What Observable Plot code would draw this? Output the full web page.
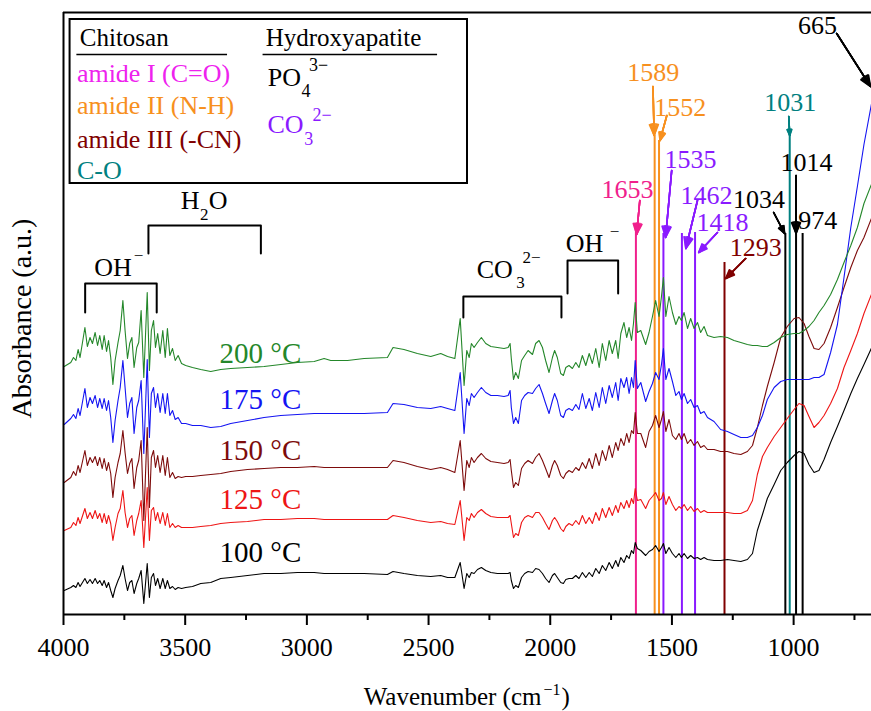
<!DOCTYPE html>
<html><head><meta charset="utf-8">
<script src="https://cdn.jsdelivr.net/npm/d3@7"></script>
<script src="https://cdn.jsdelivr.net/npm/@observablehq/plot@0.6"></script>
<style>
html,body{margin:0;padding:0;background:#fff;}
#chart svg{display:block;}
</style></head><body><div id="chart"></div>
<script>
// ---------- data ----------
const wavenumbers = [
 3997,3970,3959,3949,3940,3932,3912,3902,3891,3881,3870,3860,3851,3841,3833,3823,3815,3806,3797,3788,3776,3767,3756,3747,3737,3728,3719,3710,3699,3691,3681,3670,3656,3647,3639,3630,3622,3613,3603,3592,3582,3573,3563,3552,3541,3529,3515,3498,3470,3436,3395,3354,
 3313,3244,3176,3107,3039,2970,2929,2902,2833,2765,2669,2646,2601,2546,2491,2450,2422,2392,
 2370,2354,2343,2333,2324,2313,2299,2283,2265,2244,2217,2190,2173,2165,2160,2151,2142,2131,2118,2105,2091,2073,2060,2046,2032,2019,2005,1991,1982,1971,1957,1946,1936,1923,1909,1895,1882,1868,1854,1840,1827,1813,1799,1786,1772,1758,1745,1731,1721,1710,1697,1686,1676,1666,1658,1651,1642,1628,
 1608,1594,1580,1567,1553,1543,1535,1525,1512,1498,1484,1471,1461,1450,1436,1423,1409,1395,1382,1368,1354,1327,1300,1272,1245,1217,1190,1169,1149,1128,1108,1080,1053,1026,998,978,957,937,916,896,875,848,820,793,765,738,711,679
];
const absorb200 = [
 248,252,257,254,265,257,287,268,277,271,282,269,279,265,279,263,274,257,230,254,272,284,314,284,256,271,277,247,267,272,304,237,322,244,284,294,267,281,261,284,257,286,259,266,254,259,251,249,247,245,243,245,
 246,247,248,250,252,253,256,254,254,256,257,267,265,261,258,261,258,256,
 296,229,264,257,271,267,272,277,271,268,267,266,267,271,256,235,242,236,254,259,264,260,271,274,267,254,242,257,264,257,241,239,247,249,246,252,247,259,249,261,251,266,247,271,254,274,261,274,256,281,292,277,287,274,291,312,282,284,
 270,282,298,314,298,318,337,298,318,302,290,298,294,302,286,296,286,292,282,288,279,277,278,277,274,272,270,269,269,268,268,272,277,280,281,281,284,288,294,302,309,320,335,352,369,387,411,431
];
const absorb175 = [
 190,196,200,196,206,199,226,207,217,211,219,207,216,206,216,204,214,197,172,194,214,227,254,227,197,211,217,181,207,214,234,161,255,177,221,227,207,221,202,221,201,221,199,204,195,197,191,191,189,189,187,188,
 191,194,197,199,200,201,201,201,201,201,202,211,210,207,206,208,206,204,
 242,181,216,209,221,217,222,227,222,219,219,218,219,224,207,191,197,191,214,219,222,221,226,230,221,211,201,214,221,214,199,197,204,206,204,210,205,221,206,216,204,222,207,227,211,229,217,232,214,236,227,237,221,237,227,254,226,232,
 213,223,231,242,235,250,266,235,246,233,219,223,215,221,211,215,207,209,201,203,197,193,185,183,180,177,177,179,187,199,215,227,233,235,235,235,235,235,237,237,240,262,290,337,387,428,470,512
];
const absorb150 = [
 132,137,143,139,149,142,164,149,157,152,158,149,157,146,156,144,152,141,117,137,152,161,184,162,141,151,156,126,147,154,174,94,187,107,157,164,147,159,142,159,139,157,137,142,136,138,137,138,138,139,140,141,
 143,145,146,147,147,148,147,147,147,147,147,154,152,148,145,147,145,142,
 174,124,154,147,157,152,157,161,156,153,152,151,152,155,144,127,132,129,146,151,154,151,157,161,154,146,137,149,154,149,139,136,141,144,142,147,144,152,146,156,146,161,149,164,154,169,157,172,164,176,169,181,172,184,181,202,181,181,
 167,183,189,199,187,195,203,183,195,179,175,181,175,181,171,175,169,173,167,169,165,165,163,163,161,160,163,169,187,209,228,252,277,288,296,297,291,278,266,265,271,287,307,327,347,364,377,397
];
const absorb125 = [
 84,87,92,89,97,91,106,96,102,96,104,96,101,92,101,91,99,91,74,87,101,106,124,102,87,96,99,79,94,101,114,67,127,74,104,107,94,102,91,102,89,101,87,91,87,89,87,87,87,88,89,91,
 92,93,95,95,96,96,95,95,95,95,95,99,97,94,92,93,91,90,
 114,74,97,94,101,97,102,105,101,98,97,97,97,99,91,77,81,79,92,97,99,97,102,102,97,91,85,94,97,93,86,83,88,91,89,94,90,99,91,97,91,102,94,106,97,107,99,109,102,112,106,114,107,116,111,126,114,115,
 106,114,118,122,114,116,122,110,118,110,104,108,106,110,104,108,103,106,102,104,102,102,102,102,101,101,104,114,140,158,167,178,187,196,205,211,209,198,187,192,199,211,226,247,264,281,301,321
];
const absorb100 = [
 24,27,29,27,32,28,36,31,35,31,36,31,34,29,34,27,32,24,17,26,34,39,49,36,24,32,34,21,31,36,44,11,51,17,37,41,29,36,26,36,26,34,26,28,25,27,26,27,28,31,32,36,
 37,39,41,41,42,42,41,41,41,41,40,43,41,39,38,39,37,37,
 52,26,41,37,42,41,45,47,44,42,41,41,41,42,34,26,29,27,37,41,43,42,46,45,41,36,32,39,41,37,32,31,35,36,36,39,36,42,37,42,38,46,41,49,44,52,46,54,48,57,52,59,56,64,61,72,66,64,
 59,63,65,69,63,67,71,61,67,61,57,61,57,61,56,59,56,57,55,57,55,54,54,55,54,53,55,61,84,100,116,130,144,152,159,163,161,150,142,144,155,172,188,204,221,236,250,267
];
const seriesNames = ["100 °C","125 °C","150 °C","175 °C","200 °C"];
const seriesValues = [absorb100, absorb125, absorb150, absorb175, absorb200];
const seriesColors = ["#000000","#ee1515","#7d0b0b","#1414f2","#24872a"];

const majorTicks = [4000,3500,3000,2500,2000,1500,1000];
const minorTicks = [3750,3250,2750,2250,1750,1250,750];

const peakLabels = ["1653","1589","1552","1535","1462","1418","1293","1034","1031","1014","974"];
const peakPositions = [1648,1571,1553,1535,1459,1405,1284,1034,1016,990,963];
const peakColors = ["#f0208c","#f7901e","#f7901e","#8a1aff","#8a1aff","#8a1aff","#800000","#000000","#008080","#000000","#000000"];

const chitosanBands = ["amide I (C=O)","amide II (N-H)","amide III (-CN)","C-O"];
const chitosanColors = ["#ee22ee","#f7901e","#800000","#008080"];
const hapColors = ["#000000","#8a1aff"];

// ---------- annotation layout (data coordinates) ----------
const peakLineTop = [382,479,474,381,381,382,352,381,479,381,381];
const peakLabelAt = [[1683,417],[1577,534],[1466,499],[1424,447],[1358,411],[1292,384],[1156,359],[1142,407],[1014,504],[947,444],[901,386]];
const arrowsAt = [
 [1632,414,1645,380,0],[1578,528,1573,479,1],[1521,499,1549,474,2],[1501,444,1526,377,3],
 [1395,414,1443,366,4],[1313,382,1390,362,5],[1197,356,1279,336,6],[1082,402,1037,381,7],
 [1020,498,1016,479,8],[990,439,990,381,9]
];
const bracketsAt = [[3911,3617,331,302],[3651,3189,389,361],[2357,1954,318,297],[1929,1721,354,321]];

// ---------- build tables ----------
const rows = [];
seriesNames.forEach((name, i) => {
  wavenumbers.forEach((w, j) => rows.push({w, v: seriesValues[i][j], color: seriesColors[i], s: name}));
});
const peakRows = peakLabels.map((t, i) => ({x: peakPositions[i], top: peakLineTop[i], color: peakColors[i], t, lx: peakLabelAt[i][0], ly: peakLabelAt[i][1]}));
const arrowRows = arrowsAt.map(a => ({x1: a[0], y1: a[1], x2: a[2], y2: a[3], color: peakColors[a[4]]}));
arrowRows.push({x1: 823, y1: 581, x2: 684, y2: 528, color: "#000"});
const bracketRows = [];
bracketsAt.forEach((b, k) => {
  bracketRows.push({x: b[0], y: b[3], k}, {x: b[0], y: b[2], k}, {x: b[1], y: b[2], k}, {x: b[1], y: b[3], k});
});
const spectrumLabelRows = seriesNames.map((t, i) => ({x: 3191, y: [53,106,155,206,252][i], t, color: seriesColors[i]}));

const startTexts = [
  {x: 3933, y: 569, t: "Chitosan", c: "#000", s: 25},
  {x: 3169, y: 569, t: "Hydroxyapatite", c: "#000", s: 25},
  ...chitosanBands.map((t, i) => ({x: 3945, y: [533,501,467,436][i], t, c: chitosanColors[i], s: 26})),
  {x: 3161, y: 529, t: "PO", c: hapColors[0], s: 26},
  {x: 3022, y: 518, t: "4", c: hapColors[0], s: 18},
  {x: 2991, y: 544, t: "3−", c: hapColors[0], s: 18},
  {x: 3162, y: 482, t: "CO", c: hapColors[1], s: 26},
  {x: 3011, y: 470, t: "3", c: hapColors[1], s: 18},
  {x: 2977, y: 494, t: "2−", c: hapColors[1], s: 18},
  {x: 3874, y: 339, t: "OH", c: "#000", s: 26},
  {x: 3711, y: 354, t: "−", c: "#000", s: 17},
  {x: 3518, y: 406, t: "H", c: "#000", s: 26},
  {x: 3439, y: 395, t: "2", c: "#000", s: 17},
  {x: 3403, y: 406, t: "O", c: "#000", s: 26},
  {x: 2302, y: 337, t: "CO", c: "#000", s: 26},
  {x: 2140, y: 327, t: "3", c: "#000", s: 17},
  {x: 2114, y: 352, t: "2−", c: "#000", s: 17},
  {x: 1936, y: 363, t: "OH", c: "#000", s: 26},
  {x: 1756, y: 378, t: "−", c: "#000", s: 17}
];
const headAngles = [12, 24, 36, 45];

const chart = Plot.plot({
  width: 871, height: 711,
  marginLeft: 63, marginRight: 0, marginTop: 12, marginBottom: 97,
  x: {domain: [4000, 680]},
  y: {domain: [0, 602], axis: null},
  color: {type: "identity"},
  style: {fontFamily: "'Liberation Serif','Times New Roman',serif", fontSize: "26px", background: "#fff", color: "#000"},
  marks: [
    Plot.ruleX(peakRows, {x: "x", y1: 0, y2: "top", stroke: "color", strokeWidth: 2}),
    Plot.line(rows, {x: "w", y: "v", z: "s", stroke: "color", strokeWidth: 1.1}),
    Plot.line(bracketRows, {x: "x", y: "y", z: "k", stroke: "#000", strokeWidth: 2}),
    Plot.rect([{x1: 3973, x2: 2340, y1: 431, y2: 595}], {x1: "x1", x2: "x2", y1: "y1", y2: "y2", fill: "none", stroke: "#000", strokeWidth: 2}),
    Plot.ruleY([{x1: 3945, x2: 3326, y: 560}, {x1: 3180, x2: 2463, y: 560}], {x1: "x1", x2: "x2", y: "y", stroke: "#000", strokeWidth: 1.5}),
    ...headAngles.map(a => Plot.arrow(arrowRows, {x1: "x1", y1: "y1", x2: "x2", y2: "y2", stroke: "color", strokeWidth: 1.6, headLength: 11, headAngle: a})),
    Plot.text(peakRows, {x: "lx", y: "ly", text: "t", fill: "color", fontSize: 26, textAnchor: "middle", lineAnchor: "bottom"}),
    Plot.text([{x: 902, y: 581, t: "665"}], {x: "x", y: "y", text: "t", fill: "#000", fontSize: 26, textAnchor: "middle", lineAnchor: "bottom"}),
    Plot.text(spectrumLabelRows, {x: "x", y: "y", text: "t", fill: "color", fontSize: 29, textAnchor: "middle", lineAnchor: "bottom"}),
    Plot.text(startTexts, {x: "x", y: "y", text: "t", fill: "c", fontSize: d => d.s, textAnchor: "start", lineAnchor: "bottom"}),
    Plot.text([{x: 4134, y: 296, t: "Absorbance (a.u.)"}], {x: "x", y: "y", text: "t", fill: "#000", fontSize: 28, textAnchor: "middle", lineAnchor: "bottom", rotate: -90}),
    Plot.text([{x: 2343, y: -90, t: "Wavenumber (cm−1)"}], {x: "x", y: "y", text: "t", fill: "#000", fontSize: 25, textAnchor: "middle", lineAnchor: "bottom", className: "xlabel"}),
    Plot.ruleX([4000], {stroke: "#000", strokeWidth: 2}),
    Plot.ruleY([0, 602], {stroke: "#000", strokeWidth: 2}),
    Plot.axisX(majorTicks, {anchor: "bottom", tickSize: 11, tickPadding: 12, strokeWidth: 2, fontSize: 26, label: null, tickFormat: d => String(d)}),
    Plot.axisX(minorTicks, {anchor: "bottom", tickSize: 6, strokeWidth: 2, label: null, tickFormat: () => ""})
  ]
});
document.getElementById("chart").appendChild(chart);
// typeset superscript of the x-axis label
d3.select(chart).selectAll(".xlabel text").each(function () {
  const t = d3.select(this);
  t.text(null);
  t.append("tspan").text("Wavenumber (cm");
  t.append("tspan").attr("font-size", 16).attr("dy", -10).attr("dx", 2).text("−1");
  t.append("tspan").attr("dy", 10).attr("dx", 1).text(")");
});
</script>
</body></html>
